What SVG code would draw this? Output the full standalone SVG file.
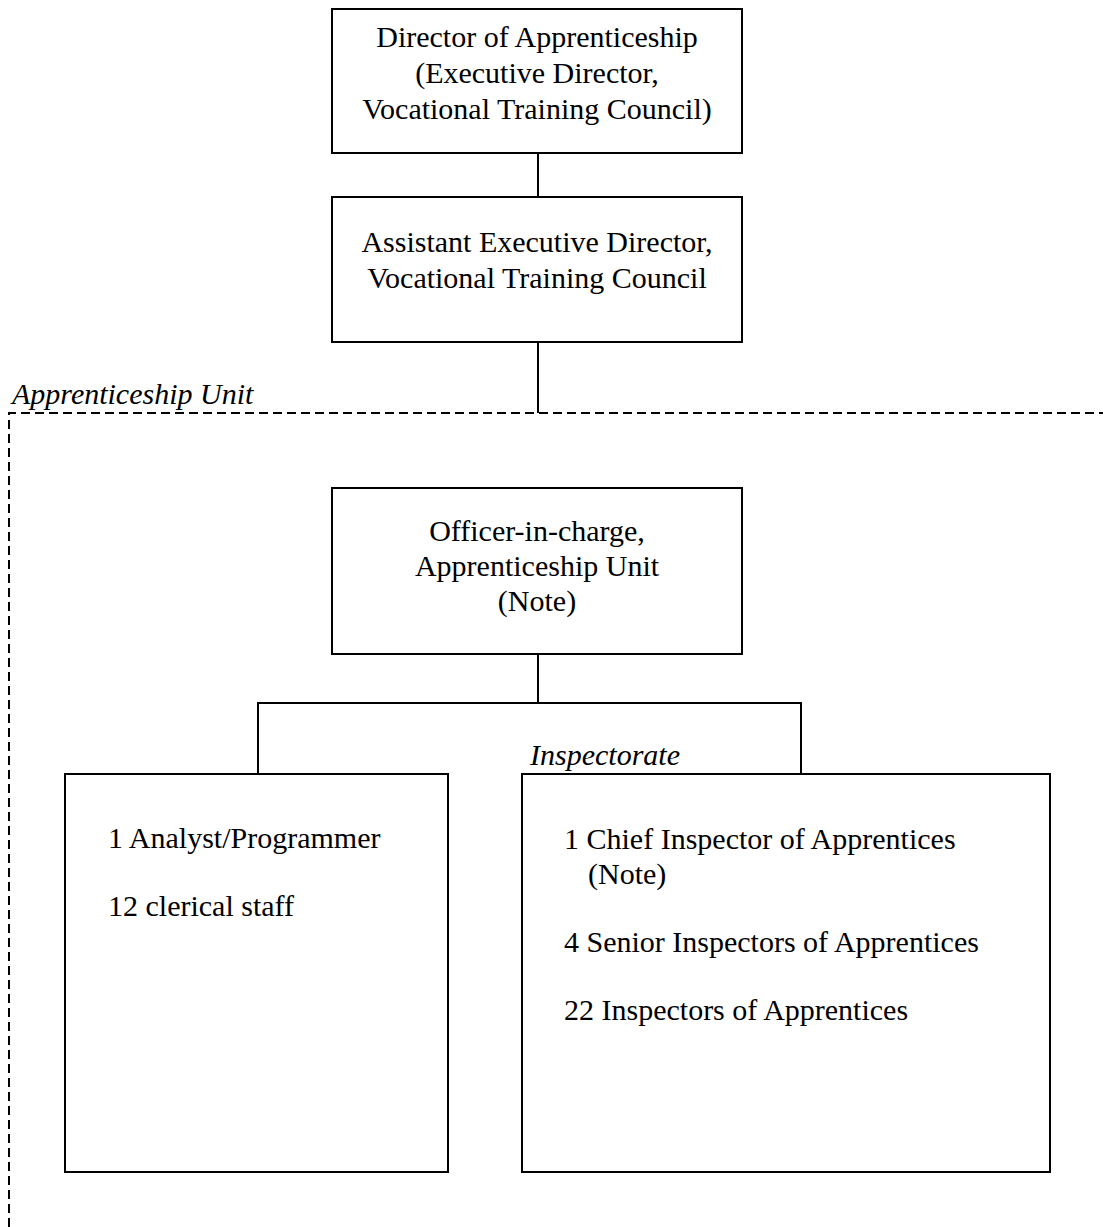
<svg xmlns="http://www.w3.org/2000/svg" width="1103" height="1227" viewBox="0 0 1103 1227">
<style>
.box{fill:#fff;stroke:#000;stroke-width:2}
.ln{fill:none;stroke:#000;stroke-width:2}
.dash{fill:none;stroke:#000;stroke-width:2;stroke-dasharray:9 5}
text{font-family:"Liberation Serif","Times New Roman",serif;font-size:30px;fill:#000}
.c{text-anchor:middle}
.i{font-style:italic}
</style>
<rect width="1103" height="1227" fill="#fff"/>
<g id="connectors">
<line class="ln" x1="538" y1="153" x2="538" y2="197"/>
<line class="ln" x1="538" y1="342" x2="538" y2="413"/>
<line class="ln" x1="538" y1="654" x2="538" y2="703"/>
<path class="ln" d="M258 774 V703 H801 V774"/>
</g>
<g id="apprenticeship-unit">
<path class="dash" d="M9 1227 V413 H1103"/>
<text class="i" x="12" y="404">Apprenticeship Unit</text>
</g>
<g id="director">
<rect class="box" x="332" y="9" width="410" height="144"/>
<text class="c" x="537" y="47">Director of Apprenticeship</text>
<text class="c" x="537" y="83">(Executive Director,</text>
<text class="c" x="537" y="119">Vocational Training Council)</text>
</g>
<g id="assistant">
<rect class="box" x="332" y="197" width="410" height="145"/>
<text class="c" x="537" y="252">Assistant Executive Director,</text>
<text class="c" x="537" y="288">Vocational Training Council</text>
</g>
<g id="officer">
<rect class="box" x="332" y="488" width="410" height="166"/>
<text class="c" x="537" y="541">Officer-in-charge,</text>
<text class="c" x="537" y="576">Apprenticeship Unit</text>
<text class="c" x="537" y="611">(Note)</text>
</g>
<g id="support">
<rect class="box" x="65" y="774" width="383" height="398"/>
<text x="108" y="848">1 Analyst/Programmer</text>
<text x="108" y="916">12 clerical staff</text>
</g>
<g id="inspectorate">
<text class="i" x="530" y="765">Inspectorate</text>
<rect class="box" x="522" y="774" width="528" height="398"/>
<text x="564" y="849">1 Chief Inspector of Apprentices</text>
<text x="588" y="884">(Note)</text>
<text x="564" y="952">4 Senior Inspectors of Apprentices</text>
<text x="564" y="1020">22 Inspectors of Apprentices</text>
</g>
</svg>
